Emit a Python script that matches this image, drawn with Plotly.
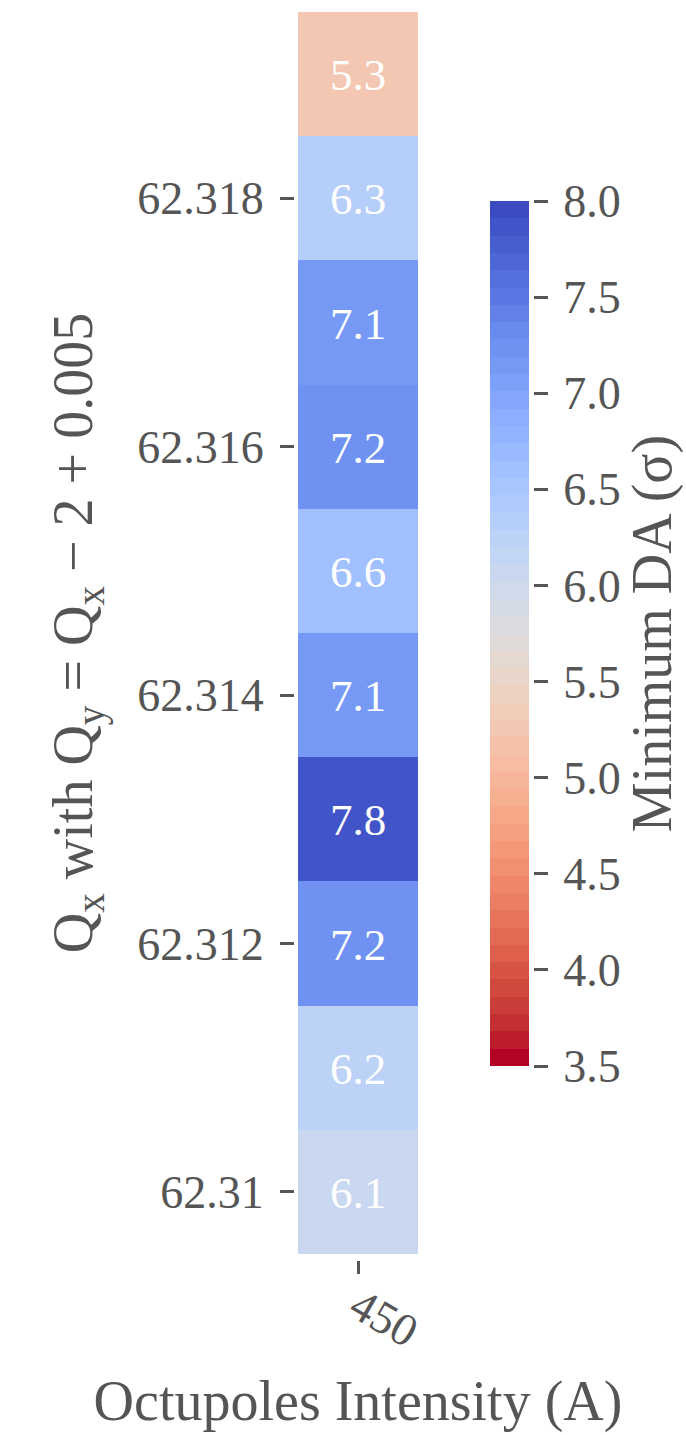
import plotly.graph_objects as go

# ---- data ----
intensity = ["450"]
qx = [62.310, 62.311, 62.312, 62.313, 62.314, 62.315, 62.316, 62.317, 62.318, 62.319]
min_da = [6.08, 6.22, 7.22, 7.83, 7.12, 6.62, 7.22, 7.12, 6.31, 5.27]
y_tickvals = [62.310, 62.312, 62.314, 62.316, 62.318]
y_ticktext = ["62.31", "62.312", "62.314", "62.316", "62.318"]
cb_tickvals = [3.5, 4.0, 4.5, 5.0, 5.5, 6.0, 6.5, 7.0, 7.5, 8.0]
cb_ticktext = ["3.5", "4.0", "4.5", "5.0", "5.5", "6.0", "6.5", "7.0", "7.5", "8.0"]
zmin, zmax = 3.5, 8.0

# coolwarm reference colours (Moreland), position 0..1
_cw = [
    (59, 76, 192), (68, 90, 204), (77, 104, 215), (87, 117, 225), (98, 130, 234),
    (108, 142, 241), (119, 154, 247), (130, 165, 251), (141, 176, 254), (152, 185, 255),
    (163, 194, 255), (174, 201, 253), (184, 208, 249), (194, 213, 244), (204, 217, 238),
    (213, 219, 230), (221, 221, 221), (229, 216, 209), (236, 211, 197), (241, 204, 184),
    (245, 196, 172), (247, 187, 160), (247, 177, 148), (247, 166, 135), (244, 154, 123),
    (241, 141, 111), (236, 127, 99), (229, 112, 88), (222, 96, 77), (213, 80, 66),
    (203, 62, 56), (192, 40, 47), (180, 4, 38),
]


def coolwarm(t):
    t = min(max(t, 0.0), 1.0)
    f = t * (len(_cw) - 1)
    i = int(f)
    if i >= len(_cw) - 1:
        return _cw[-1]
    a = f - i
    c0, c1 = _cw[i], _cw[i + 1]
    return tuple(round(c0[k] + (c1[k] - c0[k]) * a) for k in range(3))


# reversed coolwarm, resampled into 50 discrete bands
n_bands = 50
colorscale = []
for i in range(n_bands):
    c = coolwarm(1 - i / (n_bands - 1))
    col = "rgb(%d,%d,%d)" % c
    colorscale.append([i / n_bands, col])
    colorscale.append([(i + 1) / n_bands, col])

W, H = 686, 1435
GREY = "#555555"
FONT = "Liberation Serif"
TICK_SIZE = 46
TITLE_SIZE = 56

# pixel geometry
hm_left, hm_right, hm_top, hm_bottom = 298, 418, 12, 1254
cb_left, cb_right, cb_top, cb_bottom = 490, 529, 201, 1066

fig = go.Figure()
fig.add_trace(go.Heatmap(
    x=intensity, y=qx, z=[[v] for v in min_da],
    zmin=zmin, zmax=zmax, colorscale=colorscale,
    texttemplate="%{z:.1f}",
    textfont=dict(family=FONT, size=45, color="white"),
    colorbar=dict(
        x=cb_left / W, xanchor="left", y=1 - cb_top / H, yanchor="top",
        len=cb_bottom - cb_top, lenmode="pixels",
        thickness=cb_right - cb_left, thicknessmode="pixels",
        outlinewidth=0, ticks="", showticklabels=False, xpad=0, ypad=0,
    ),
    hoverinfo="skip",
))
# empty trace so that the colour-bar axis (y3) is drawn
fig.add_trace(go.Scatter(x=[], y=[], xaxis="x3", yaxis="y3", showlegend=False, hoverinfo="skip"))

fig.update_layout(
    width=W, height=H,
    margin=dict(l=0, r=0, t=0, b=0),
    paper_bgcolor="white", plot_bgcolor="rgba(0,0,0,0)",
    font=dict(family=FONT, color=GREY, size=TICK_SIZE),
    showlegend=False,
    xaxis=dict(
        domain=[hm_left / W, hm_right / W],
        anchor="free", position=(H - (hm_bottom + 6)) / H,
        type="category", ticks="outside", ticklen=13, tickwidth=3, tickcolor=GREY,
        tickangle=30, showgrid=False, zeroline=False, showline=False,
        ticklabelstandoff=-12,
        tickfont=dict(family=FONT, size=TICK_SIZE, color=GREY),
        title=dict(text="Octupoles Intensity (A)", font=dict(family=FONT, size=TITLE_SIZE, color=GREY), standoff=24),
        automargin=False,
    ),
    yaxis=dict(
        domain=[(H - hm_bottom) / H, (H - hm_top) / H],
        anchor="free", position=(hm_left - 4) / W,
        range=[qx[0] - 0.0005, qx[-1] + 0.0005],
        tickvals=y_tickvals, ticktext=y_ticktext,
        ticks="outside", ticklen=14, tickwidth=3, tickcolor=GREY,
        showgrid=False, zeroline=False, showline=False,
        ticklabelstandoff=7,
        tickfont=dict(family=FONT, size=TICK_SIZE, color=GREY),
        title=dict(text="Q<sub>x</sub> with Q<sub>y</sub> = Q<sub>x</sub> − 2 + 0.005",
                   font=dict(family=FONT, size=TITLE_SIZE, color=GREY), standoff=25),
        automargin=False,
    ),
    xaxis3=dict(domain=[cb_left / W, cb_right / W], anchor="y3", visible=False, range=[0, 1]),
    yaxis3=dict(
        domain=[(H - cb_bottom) / H, (H - cb_top) / H],
        anchor="free", position=(cb_right + 4) / W, side="right",
        range=[zmin, zmax], tickvals=cb_tickvals, ticktext=cb_ticktext,
        ticks="outside", ticklen=14, tickwidth=3, tickcolor=GREY,
        showgrid=False, zeroline=False, showline=False,
        ticklabelstandoff=6,
        tickfont=dict(family=FONT, size=TICK_SIZE, color=GREY),
        title=dict(text="Minimum DA (σ)", font=dict(family=FONT, size=TITLE_SIZE, color=GREY), standoff=12),
        automargin=False,
    ),
)

fig.write_html("out.html")
